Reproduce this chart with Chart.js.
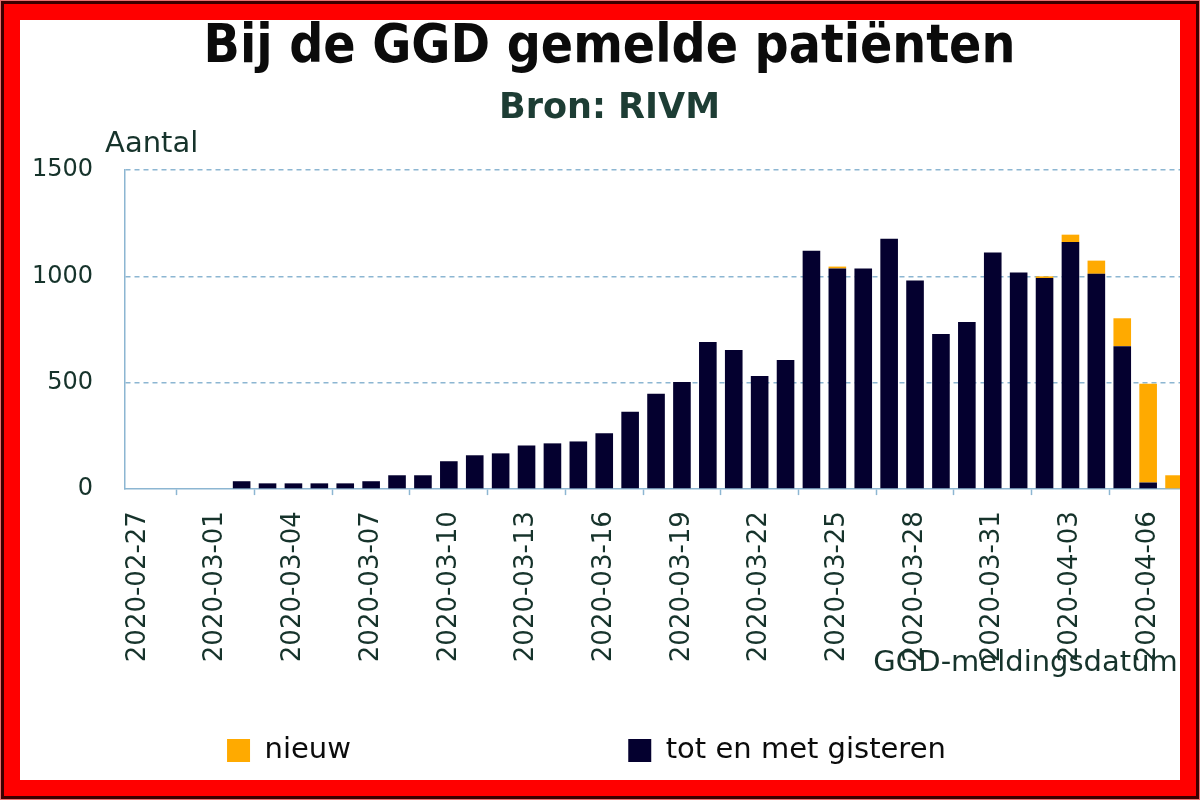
<!DOCTYPE html>
<html>
<head>
<meta charset="utf-8">
<script src="https://cdn.jsdelivr.net/npm/chart.js@4.4.0/dist/chart.umd.min.js"></script>
<style>
  html, body { margin: 0; padding: 0; background: #fff; }
  #page { position: relative; width: 1200px; height: 800px; overflow: hidden; background: #fff; }
  #chart-box { position: absolute; left: 20px; top: 20px; width: 1180px; height: 760px; }
  .frame { position: absolute; left: 0; top: 0; width: 1200px; height: 800px; box-sizing: border-box; pointer-events: none; }
  .frame div { box-sizing: border-box; width: 100%; height: 100%; }
  .f1 { border: 1px solid #e87070; }
  .f2 { border: 3px solid #3a0000; }
  .f3 { border: 16px solid #ff0000; }
</style>
</head>
<body>
<div id="page">
  <div id="chart-box"><canvas id="ggdChart"></canvas></div>
  <div class="frame"><div class="f1"><div class="f2"><div class="f3"></div></div></div></div>
</div>
<script>
// meldingsdatum, one bar per day
const dates = [
    "2020-02-27", "2020-02-28", "2020-02-29", "2020-03-01", "2020-03-02", "2020-03-03",
    "2020-03-04", "2020-03-05", "2020-03-06", "2020-03-07", "2020-03-08", "2020-03-09",
    "2020-03-10", "2020-03-11", "2020-03-12", "2020-03-13", "2020-03-14", "2020-03-15",
    "2020-03-16", "2020-03-17", "2020-03-18", "2020-03-19", "2020-03-20", "2020-03-21",
    "2020-03-22", "2020-03-23", "2020-03-24", "2020-03-25", "2020-03-26", "2020-03-27",
    "2020-03-28", "2020-03-29", "2020-03-30", "2020-03-31", "2020-04-01", "2020-04-02",
    "2020-04-03", "2020-04-04", "2020-04-05", "2020-04-06", "2020-04-07"
];

// reported up to and including yesterday
const totEnMetGisteren = [
    0, 0, 0, 0, 37, 27,
    27, 27, 27, 37, 65, 65,
    131, 159, 168, 205, 215, 224,
    262, 364, 448, 504, 691, 654,
    532, 607, 1121, 1037, 1037, 1177,
    981, 729, 785, 1112, 1018, 992,
    1161, 1012, 672, 31, 0
];

// new today
const nieuw = [
    0, 0, 0, 0, 0, 0,
    0, 0, 0, 0, 0, 0,
    0, 0, 0, 0, 0, 0,
    0, 0, 0, 0, 0, 0,
    0, 0, 0, 9, 0, 0,
    0, 0, 0, 0, 0, 8,
    35, 62, 131, 464, 65
];

const yMin = 0;
const yMax = 1500;
const yStep = 500;

const navy = "#04002f";
const orange = "#ffaa00";
const axisColor = "#8cb6d2";
const textColor = "#16332b";
const font = "'DejaVu Sans', Verdana, sans-serif";

// "Aantal" sits horizontally above the y axis
const aantalLabel = {
    id: "aantalLabel",
    afterDraw(chart) {
        let ctx = chart.ctx;
        let area = chart.chartArea;
        ctx.save();
        ctx.font = "29px " + font;
        ctx.fillStyle = textColor;
        ctx.textAlign = "left";
        ctx.textBaseline = "alphabetic";
        ctx.fillText("Aantal", area.left - 20, area.top - 18);
        ctx.restore();
    }
};

new Chart(document.getElementById("ggdChart"), {
    type: "bar",
    data: {
        labels: dates,
        datasets: [
            { label: "tot en met gisteren", data: totEnMetGisteren, backgroundColor: navy },
            { label: "nieuw", data: nieuw, backgroundColor: orange }
        ]
    },
    options: {
        responsive: true,
        maintainAspectRatio: false,
        animation: false,
        layout: { padding: { left: 12, right: 13, top: 0, bottom: 5 } },
        datasets: { bar: { categoryPercentage: 1, barPercentage: 0.68 } },
        scales: {
            x: {
                stacked: true,
                offset: true,
                grid: {
                    drawOnChartArea: false,
                    drawTicks: true,
                    tickLength: 6,
                    tickWidth: 1.5,
                    tickColor: axisColor
                },
                border: { color: axisColor, width: 1.5 },
                ticks: {
                    autoSkip: false,
                    minRotation: 90,
                    maxRotation: 90,
                    padding: 16,
                    color: textColor,
                    font: { family: font, size: 26 },
                    // every third day gets a label and a tick mark
                    callback: function (value, index) {
                        return index % 3 === 0 ? this.getLabelForValue(value) : null;
                    }
                },
                title: {
                    display: true,
                    text: "GGD-meldingsdatum ",
                    align: "end",
                    color: textColor,
                    font: { family: font, size: 29 },
                    padding: { top: -32, bottom: 45 }
                }
            },
            y: {
                stacked: true,
                min: yMin,
                max: yMax,
                ticks: {
                    stepSize: yStep,
                    padding: 0,
                    color: textColor,
                    font: { family: font, size: 24 },
                    callback: value => String(value)
                },
                grid: {
                    drawTicks: true,
                    tickLength: 32,
                    tickColor: "rgba(0,0,0,0)",
                    lineWidth: 1.5,
                    color: c => c.tick && c.tick.value === 0 ? "rgba(0,0,0,0)" : axisColor
                },
                border: { color: axisColor, width: 1.5, dash: [5, 4] }
            }
        },
        plugins: {
            title: {
                display: true,
                text: "Bij de GGD gemelde patiënten",
                color: "#0b0b0b",
                font: { family: "'DejaVu Sans Condensed', 'DejaVu Sans', sans-serif", weight: "bold", size: 53, lineHeight: 1 },
                padding: { top: 2, bottom: 16 }
            },
            subtitle: {
                display: true,
                text: "Bron: RIVM",
                color: "#1d3d34",
                font: { family: font, weight: "bold", size: 35, lineHeight: 1 },
                padding: { top: 0, bottom: 44 }
            },
            legend: {
                position: "bottom",
                reverse: true,
                labels: {
                    boxWidth: 23,
                    boxHeight: 23,
                    padding: 10,
                    color: "#0b0b0b",
                    font: { family: font, size: 29 },
                    generateLabels(chart) {
                        let items = Chart.defaults.plugins.legend.labels.generateLabels(chart);
                        // widen the items so they sit far apart like the original
                        items.forEach(item => {
                            if (item.text === "nieuw") item.text = "nieuw" + " ".repeat(29);
                            else item.text = item.text + " ".repeat(5);
                        });
                        return items;
                    }
                }
            },
            tooltip: { enabled: false }
        }
    },
    plugins: [aantalLabel]
});
</script>
</body>
</html>
